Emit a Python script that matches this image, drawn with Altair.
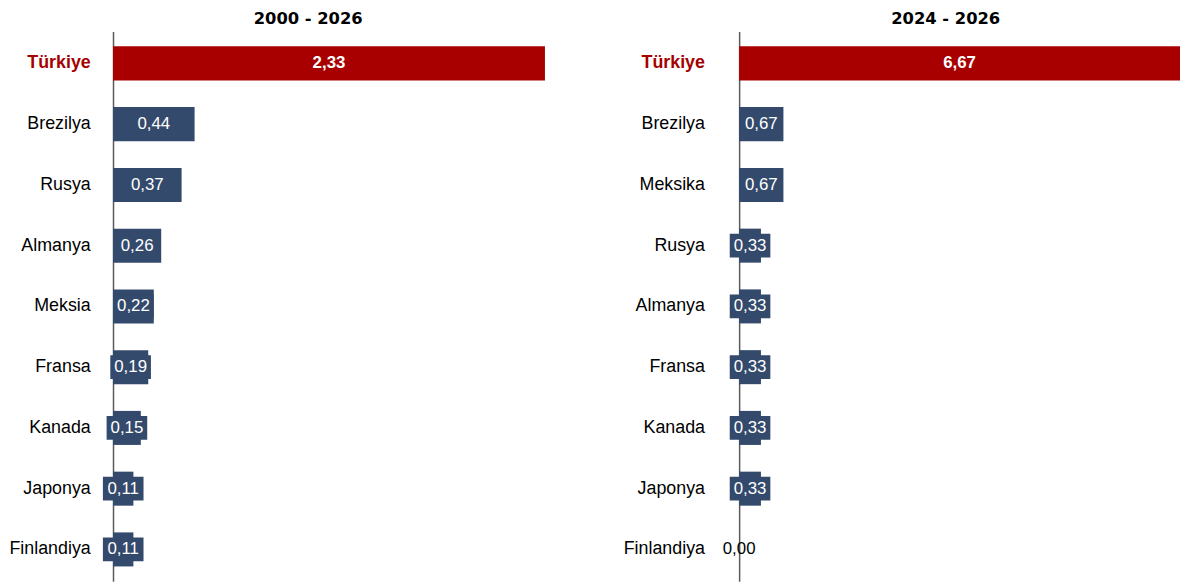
import altair as alt
import pandas as pd

left_countries = ["Türkiye", "Brezilya", "Rusya", "Almanya", "Meksia", "Fransa", "Kanada", "Japonya", "Finlandiya"]
left_values = [2.33, 0.44, 0.37, 0.26, 0.22, 0.19, 0.15, 0.11, 0.11]
right_countries = ["Türkiye", "Brezilya", "Meksika", "Rusya", "Almanya", "Fransa", "Kanada", "Japonya", "Finlandiya"]
right_values = [6.67, 0.67, 0.67, 0.33, 0.33, 0.33, 0.33, 0.33, 0.00]
panel_titles = ["2000 - 2026", "2024 - 2026"]

BLUE = "#344a6c"
RED = "#a80000"
LABEL_RED = "#a50000"
FONT = "Liberation Sans"
BOX = "M-1,-0.585L1,-0.585L1,0.585L-1,0.585Z"


def panel(countries, values, title, width, dx, pad):
    df = pd.DataFrame({"country": countries, "value": values})
    df["label"] = [f"{v:.2f}".replace(".", ",") for v in values]
    df["mid"] = df["value"] / 2
    df["hl"] = ["yes" if c == "Türkiye" else "no" for c in countries]

    y = alt.Y(
        "country:N",
        sort=countries,
        title=None,
        scale=alt.Scale(paddingInner=0.44, paddingOuter=0.245),
        axis=alt.Axis(
            domain=True, domainColor="#5a5a5a", domainWidth=1.5, ticks=False, grid=False,
            labelFont=FONT, labelFontSize=18, labelPadding=pad, labelLimit=300,
            labelColor={"condition": {"test": "datum.value === 'Türkiye'", "value": LABEL_RED}, "value": "#000000"},
            labelFontWeight={"condition": {"test": "datum.value === 'Türkiye'", "value": "bold"}, "value": "normal"},
        ),
    )
    xscale = alt.Scale(domain=[0, max(values)], nice=False, zero=True)
    base = alt.Chart(df)
    bars = base.mark_bar().encode(
        x=alt.X("value:Q", scale=xscale, axis=None),
        y=y,
        color=alt.Color("hl:N", scale=alt.Scale(domain=["yes", "no"], range=[RED, BLUE]), legend=None),
    )
    boxes = base.transform_filter("datum.value > 0 && datum.hl == 'no'").mark_point(
        shape=BOX, filled=True, size=1681, opacity=1, color=BLUE, strokeWidth=0
    ).encode(x=alt.X("mid:Q", scale=xscale, axis=None), y=y)
    txt = base.transform_filter("datum.hl == 'no'").mark_text(
        font=FONT, fontSize=17, align="center", baseline="middle"
    ).encode(
        x=alt.X("mid:Q", scale=xscale, axis=None),
        y=y,
        text="label:N",
        color=alt.condition("datum.value > 0", alt.value("white"), alt.value("black")),
    )
    txt_hl = base.transform_filter("datum.hl == 'yes'").mark_text(
        font=FONT, fontSize=17, fontWeight="bold", align="center", baseline="middle", color="white"
    ).encode(x=alt.X("mid:Q", scale=xscale, axis=None), y=y, text="label:N")
    return alt.layer(bars, boxes, txt, txt_hl).properties(
        width=width,
        height=555,
        title=alt.TitleParams(
            text=title, font="DejaVu Sans", fontSize=16.5, fontWeight="bold", color="#000000",
            anchor="middle", dx=dx, offset=4,
        ),
    )


left = panel(left_countries, left_values, panel_titles[0], 436, -21, 23)
right = panel(right_countries, right_values, panel_titles[1], 445, -14, 35)

chart = alt.hconcat(left, right, spacing=78).configure_view(stroke=None).properties(
    background="white", padding=0
)
chart.save("out.html", embed_options={"renderer": "svg", "actions": False})
